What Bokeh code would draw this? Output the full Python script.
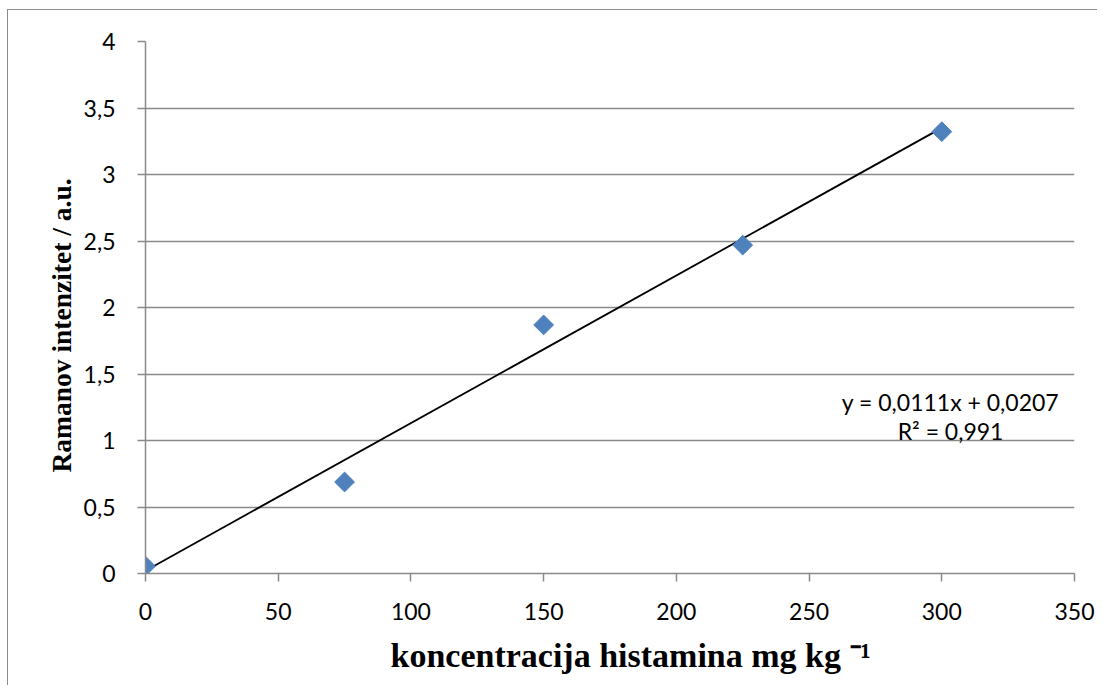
from bokeh.plotting import figure
from bokeh.models import Range1d, Label, FixedTicker, CustomJSTickFormatter, ColumnDataSource, Title
from bokeh.embed import file_html
from bokeh.resources import INLINE
import numpy as np

# Data
conc = [0, 75, 150, 225, 300]
intensity = [0.055, 0.688, 1.869, 2.469, 3.322]
slope = 0.0111
intercept = 0.0207
trend_x = [0, 300]
trend_y = [intercept + slope * x for x in trend_x]
eq_text = "y = 0,0111x + 0,0207"
r2_text = "R² = 0,991"
x_ticks = [0, 50, 100, 150, 200, 250, 300, 350]
y_ticks = [0, 0.5, 1, 1.5, 2, 2.5, 3, 3.5, 4]
x_label = "koncentracija histamina mg kg ⁻¹"
y_label = "Ramanov intenzitet / a.u."

GRID = "#8a8a8a"
TICKFONT = "Lato"

p = figure(width=1090, height=676, output_backend="svg", toolbar_location=None,
           x_range=Range1d(0, 350), y_range=Range1d(0, 4),
           min_border_left=137, min_border_right=24, min_border_top=31, min_border_bottom=112)
p.styles = {"border-left": "1px solid #8c8c8c", "border-top": "1px solid #8c8c8c",
            "margin-top": "9px", "margin-left": "7px"}
p.outline_line_color = None
p.background_fill_color = "white"
p.border_fill_color = "white"

fmt = CustomJSTickFormatter(code="return tick.toString().replace('.', ',');")

p.xaxis.ticker = FixedTicker(ticks=x_ticks)
p.yaxis.ticker = FixedTicker(ticks=y_ticks)
p.xaxis.formatter = fmt
p.yaxis.formatter = fmt

for ax in (p.xaxis, p.yaxis):
    ax.axis_line_color = GRID
    ax.axis_line_width = 1.5
    ax.major_tick_line_color = GRID
    ax.major_tick_line_width = 1.5
    ax.major_tick_in = 0
    ax.major_tick_out = 8
    ax.minor_tick_line_color = None
    ax.major_label_text_font = TICKFONT
    ax.major_label_text_font_size = "23px"
    ax.major_label_text_color = "black"

p.xaxis.major_label_standoff = 21
p.yaxis.major_label_standoff = 22

# axis titles as side-panel titles so they can be offset like the reference
xt = Title(text=x_label, align="left", offset=245, standoff=25,
           text_font="Liberation Serif", text_font_style="bold",
           text_font_size="34px", text_color="black")
p.add_layout(xt, "below")
yt = Title(text=y_label, align="left", offset=101, standoff=8,
           text_font="Liberation Serif", text_font_style="bold",
           text_font_size="27.5px", text_color="black")
p.add_layout(yt, "left")

p.xgrid.grid_line_color = None
p.ygrid.ticker = FixedTicker(ticks=y_ticks)
p.ygrid.grid_line_color = GRID
p.ygrid.grid_line_width = 1.5

p.line(trend_x, trend_y, line_color="black", line_width=1.8)
src = ColumnDataSource(dict(x=conc, y=intensity))
p.scatter("x", "y", source=src, marker="square", angle=np.pi / 4, size=14,
          fill_color="#4F81BD", line_color="#4F81BD", line_width=1)

p.add_layout(Label(x=303.3, y=1.291, text=eq_text, text_align="center", text_baseline="middle",
                   text_font=TICKFONT, text_font_size="23px", text_color="black"))
p.add_layout(Label(x=303.3, y=1.073, text=r2_text, text_align="center", text_baseline="middle",
                   text_font=TICKFONT, text_font_size="23px", text_color="black"))

open("out.html", "w").write(file_html(p, INLINE))
